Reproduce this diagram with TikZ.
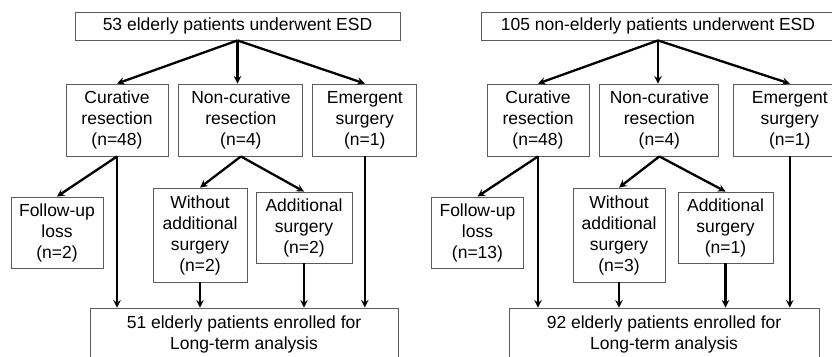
\documentclass[tikz,border=0pt]{standalone}
\usepackage{fontspec}
\setmainfont{Liberation Sans}
\usetikzlibrary{positioning}
\definecolor{BoxLine}{HTML}{5A5A5A}

\begin{document}
\begin{tikzpicture}[x=1pt,y=-1pt,>=stealth,node distance=10pt]
  \tikzstyle{box}=[draw=BoxLine,line width=0.9pt,inner sep=0pt,align=center,
    font=\fontsize{17.5}{21}\selectfont]
  \tikzstyle{flow}=[->,line width=2.3pt]
  \clip (0,0) rectangle (832,356);
  % elderly
  \node[box,minimum width=325pt,minimum height=28pt] (top1) at (237.5,26) {53 elderly patients underwent ESD};
  \node[box,minimum width=102pt,minimum height=72pt] (cur1) at (117,120) {Curative\\resection\\(n=48)};
  \node[box,minimum width=124pt,minimum height=72pt,right=10pt of cur1] (non1) {Non-curative\\resection\\(n=4)};
  \node[box,minimum width=104pt,minimum height=72pt,right=9pt of non1] (eme1) {Emergent\\surgery\\(n=1)};
  \node[box,minimum width=92pt,minimum height=71pt] (fol1) at (57,232.5) {Follow-up\\loss\\(n=2)};
  \node[box,minimum width=94pt,minimum height=94pt] (wo1) at (200,235) {Without\\additional\\surgery\\(n=2)};
  \node[box,minimum width=96pt,minimum height=71pt] (add1) at (304,227.5) {Additional\\surgery\\(n=2)};
  \node[box,minimum width=308pt,minimum height=52pt] (bot1) at (244,334) {51 elderly patients enrolled for\\Long-term analysis};
  \draw[flow] (top1.south) -- (cur1.north);
  \draw[flow] (top1.south) -- (top1.south |- non1.north);
  \draw[flow] (top1.south) -- (eme1.north);
  \draw[flow] (cur1.south) -- (fol1.north);
  \draw[flow] (cur1.south) -- (cur1.south |- bot1.north);
  \draw[flow] (non1.south) -- (wo1.north);
  \draw[flow] (non1.south) -- (add1.north);
  \draw[flow] (wo1.south) -- (wo1.south |- bot1.north);
  \draw[flow] (add1.south) -- (add1.south |- bot1.north);
  \draw[flow] (eme1.south) -- (eme1.south |- bot1.north);
  % non-elderly
  \node[box,minimum width=354pt,minimum height=28pt] (top2) at (658,26) {105 non-elderly patients underwent ESD};
  \node[box,minimum width=102pt,minimum height=72pt] (cur2) at (538,120) {Curative\\resection\\(n=48)};
  \node[box,minimum width=119pt,minimum height=72pt,right=10pt of cur2] (non2) {Non-curative\\resection\\(n=4)};
  \node[box,minimum width=112pt,minimum height=72pt,right=14pt of non2] (eme2) {Emergent\\surgery\\(n=1)};
  \node[box,minimum width=92pt,minimum height=71pt] (fol2) at (477.5,232.5) {Follow-up\\loss\\(n=13)};
  \node[box,minimum width=92pt,minimum height=94pt] (wo2) at (619,235) {Without\\additional\\surgery\\(n=3)};
  \node[box,minimum width=95pt,minimum height=71pt] (add2) at (725.5,227.5) {Additional\\surgery\\(n=1)};
  \node[box,minimum width=310pt,minimum height=52pt] (bot2) at (664,334) {92 elderly patients enrolled for\\Long-term analysis};
  \draw[flow] (top2.south) -- (cur2.north);
  \draw[flow] (top2.south) -- (top2.south |- non2.north);
  \draw[flow] (top2.south) -- (eme2.north);
  \draw[flow] (cur2.south) -- (fol2.north);
  \draw[flow] (cur2.south) -- (cur2.south |- bot2.north);
  \draw[flow] (non2.south) -- (wo2.north);
  \draw[flow] (non2.south) -- (add2.north);
  \draw[flow] (wo2.south) -- (wo2.south |- bot2.north);
  \draw[flow] (add2.south) -- (add2.south |- bot2.north);
  \draw[flow] (eme2.south) -- (eme2.south |- bot2.north);
\end{tikzpicture}
\end{document}
